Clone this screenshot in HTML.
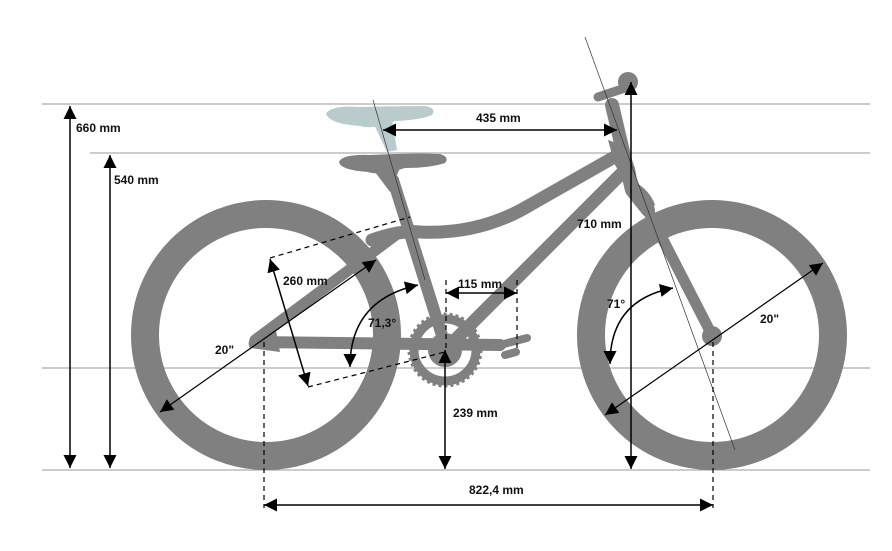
<!DOCTYPE html>
<html><head><meta charset="utf-8"><style>
html,body{margin:0;padding:0;background:#fff}
svg{display:block}
text{font-family:"Liberation Sans",sans-serif;font-weight:bold;font-size:12px;fill:#111}
</style></head><body>
<svg width="892" height="551" viewBox="0 0 892 551">
<defs>
<marker id="b" viewBox="0 0 10 10" refX="10" refY="5" markerWidth="13" markerHeight="13" orient="auto-start-reverse" markerUnits="userSpaceOnUse"><path d="M0,0L10,5L0,10z" fill="#000"/></marker>
</defs>
<g stroke="#999" stroke-width="1">
<line x1="42" y1="104" x2="870" y2="104"/>
<line x1="90" y1="153" x2="870" y2="153"/>
<line x1="42" y1="368" x2="870" y2="368"/>
<line x1="42" y1="470" x2="870" y2="470"/>
</g>
<g fill="none" stroke="#808080" stroke-width="28">
<circle cx="266" cy="335" r="121"/>
<circle cx="712" cy="335" r="121"/>
</g>
<!-- ghost saddle -->
<g fill="#b9cbcb">
<path d="M326,114 Q330,105 360,107 Q400,106 425,106 Q437,108 432,115 Q420,120 395,121 Q372,130 360,126 Q330,124 326,114 Z"/>
<path d="M372,120 L392,120 L397,150 L387,152 Z"/>
</g>
<!-- frame -->
<g fill="none" stroke="#808080" stroke-linecap="round" stroke-linejoin="round">
<path d="M255,342 L500,345" stroke-width="12"/>
<path d="M255,340 L400,232" stroke-width="11"/>
<path d="M445,345 L393,180" stroke-width="12"/>
<path d="M372,240 Q400,230 420,232 Q480,235 530,205 L618,155" stroke-width="13"/>
<path d="M455,340 L625,170" stroke-width="13"/>
<path d="M612,105 L632,190 L648,210" stroke-width="14"/>
<path d="M640,195 L712,335" stroke-width="11"/>
<path d="M598,97 L625,88" stroke-width="9"/>
<path d="M500,345 L527,338" stroke-width="8"/>
<path d="M505,355 L516,352" stroke-width="8"/>
</g>
<g fill="#808080">
<path d="M250,348 Q245,340 258,332 L275,325 L280,352 Z"/>
<circle cx="628" cy="82" r="10"/>
<circle cx="712" cy="336" r="10"/>
<path d="M339,162 Q342,154 370,155 Q410,153 440,154 Q450,157 445,163 Q430,168 405,168 Q380,176 368,172 Q340,170 339,162 Z"/>
<path d="M372,168 L400,168 L390,192 Z"/>
<path d="M608,140 Q642,150 636,200 L615,165 Z"/>
<path d="M632,180 Q650,190 655,205 L645,215 Z"/>
</g>
<circle cx="445" cy="350" r="31" fill="none" stroke="#808080" stroke-width="9"/>
<circle cx="445" cy="350" r="36" fill="none" stroke="#808080" stroke-width="3" stroke-dasharray="3,3"/>
<circle cx="445" cy="350" r="17" fill="#808080"/>
<g stroke="#333" stroke-width="0.7">
<line x1="373" y1="100" x2="425" y2="280"/>
<line x1="585" y1="37" x2="735" y2="450"/>
</g>
<g stroke="#000" stroke-width="1.2" stroke-dasharray="5,4" fill="none">
<line x1="270" y1="258" x2="410" y2="217"/>
<line x1="308" y1="387" x2="445" y2="352"/>
<line x1="446" y1="280" x2="446" y2="350"/>
<line x1="517" y1="280" x2="517" y2="350"/>
<line x1="264" y1="342" x2="264" y2="508"/>
<line x1="713" y1="342" x2="713" y2="508"/>
</g>
<g stroke="#000" stroke-width="1.5" fill="none">
<line x1="70" y1="106" x2="70" y2="468" marker-start="url(#b)" marker-end="url(#b)"/>
<line x1="110" y1="155" x2="110" y2="468" marker-start="url(#b)" marker-end="url(#b)"/>
<line x1="383" y1="130" x2="617" y2="130" marker-start="url(#b)" marker-end="url(#b)"/>
<line x1="631" y1="82" x2="631" y2="469" marker-start="url(#b)" marker-end="url(#b)"/>
<line x1="446" y1="293" x2="517" y2="293" marker-start="url(#b)" marker-end="url(#b)"/>
<line x1="445" y1="350" x2="445" y2="469" marker-start="url(#b)" marker-end="url(#b)"/>
<line x1="264" y1="505" x2="713" y2="505" marker-start="url(#b)" marker-end="url(#b)"/>
<line x1="160" y1="412" x2="376" y2="260" marker-start="url(#b)" marker-end="url(#b)" stroke-width="1.2"/>
<line x1="605" y1="415" x2="823" y2="263" marker-start="url(#b)" marker-end="url(#b)" stroke-width="1.2"/>
<line x1="270" y1="259" x2="308" y2="386" marker-start="url(#b)" marker-end="url(#b)"/>
<path d="M350,367 Q350,300 418,285" marker-start="url(#b)" marker-end="url(#b)"/>
<path d="M610,364 Q610,300 673,288" marker-start="url(#b)" marker-end="url(#b)"/>
</g>
<text x="76" y="132">660 mm</text>
<text x="114" y="184">540 mm</text>
<text x="476" y="122">435 mm</text>
<text x="577" y="228">710 mm</text>
<text x="458" y="288">115 mm</text>
<text x="283" y="285">260 mm</text>
<text x="368" y="327">71,3°</text>
<text x="607" y="308">71°</text>
<text x="215" y="354">20"</text>
<text x="760" y="323">20"</text>
<text x="453" y="417">239 mm</text>
<text x="469" y="494">822,4 mm</text>
</svg>
</body></html>
